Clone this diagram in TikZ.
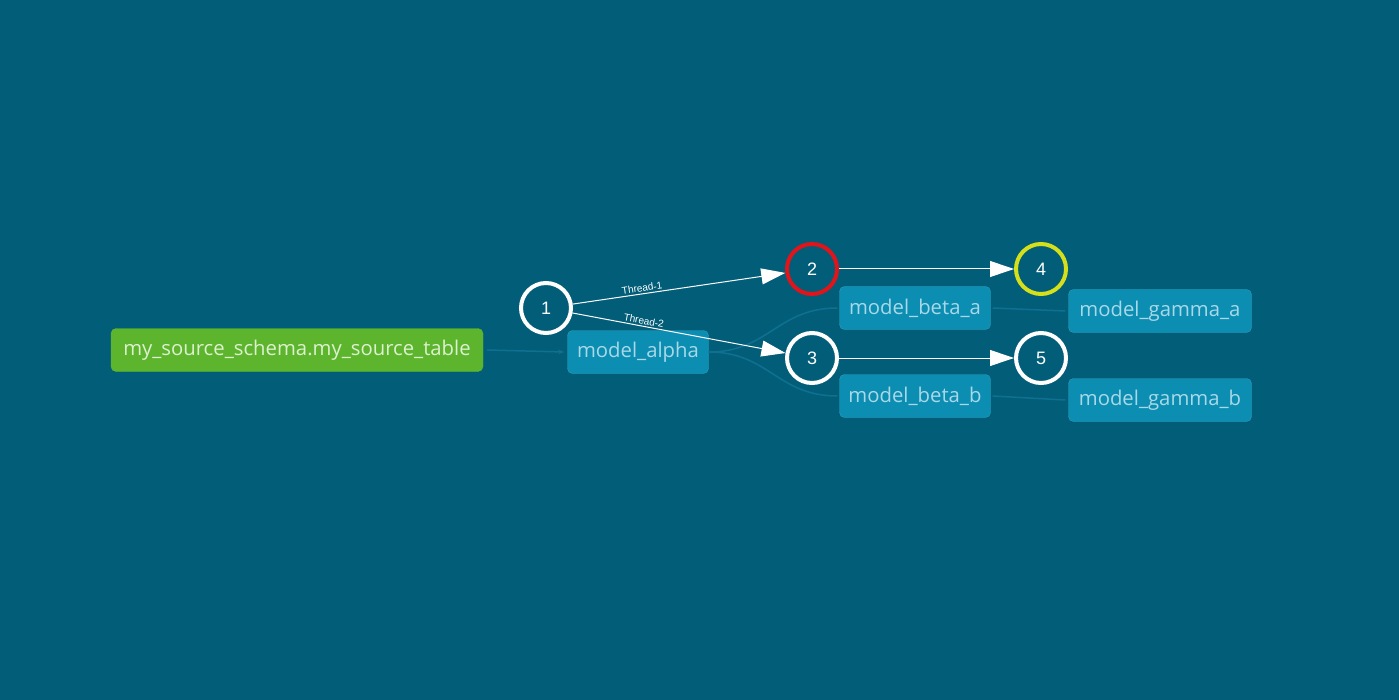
\documentclass[tikz,border=0pt]{standalone}
\usepackage{fontspec}
\usepackage{xcolor}
\usepackage{tikz}
\usetikzlibrary{arrows.meta}
\newfontfamily\boxfont{Open Sans}
\newfontfamily\numfont{Liberation Sans}
\definecolor{bgteal}{HTML}{025E78}
\definecolor{modelfill}{HTML}{0C8DB2}
\definecolor{modeltext}{HTML}{A9D9E8}
\definecolor{srcfill}{HTML}{5CB52D}
\definecolor{srctext}{HTML}{DDF0CF}
\definecolor{faint}{HTML}{0F7092}
\definecolor{ringred}{HTML}{E0141A}
\definecolor{ringyellow}{HTML}{D6E01A}

\begin{document}
\begin{tikzpicture}[x=1pt, y=-1pt,
    model/.style={fill=modelfill, draw=modelfill!85!white, rounded corners=5pt, text=modeltext,
        font=\boxfont\fontsize{20.3}{20.3}\selectfont, inner xsep=8pt, minimum height=43pt},
    source/.style={model, fill=srcfill, draw=srcfill, text=srctext},
    runstep/.style={circle, draw=white, line width=4pt, fill=bgteal, minimum size=50pt, inner sep=0pt,
        text=white, font=\numfont\fontsize{18}{18}\selectfont},
    lineage/.style={faint, line width=1.5pt},
    thread/.style={white, line width=1pt, -{Triangle[length=24pt,width=16pt]}},
    tlabel/.style={font=\numfont\fontsize{10}{10}\selectfont, text=white, sloped, above, inner sep=1.5pt}]
    \fill[bgteal] (0,0) rectangle (1399,700);

    % models
    \node[source, minimum width=372pt] (src) at (297,350) {my\_source\_schema.my\_source\_table};
    \node[model, minimum width=141pt] (alpha) at (638,352) {model\_alpha};
    \node[model, minimum width=151pt] (betaa) at (915,308) {model\_beta\_a};
    \node[model, minimum width=151pt] (betab) at (915,396) {model\_beta\_b};
    \node[model, minimum width=183pt] (gammaa) at (1160,311) {model\_gamma\_a};
    \node[model, minimum width=183pt] (gammab) at (1160,400) {model\_gamma\_b};

    % lineage edges
    \draw[lineage, -{Stealth[length=6pt]}] (src.east) ++(4,0) -- ([xshift=-3pt]alpha.west);
    \draw[lineage] (alpha.east) .. controls +(60,0) and +(-60,0) .. ([xshift=-2pt]betaa.west);
    \draw[lineage] (alpha.east) .. controls +(60,0) and +(-60,0) .. ([xshift=-2pt]betab.west);
    \draw[lineage] ([xshift=2pt]betaa.east) -- ([xshift=-3pt]gammaa.west);
    \draw[lineage] ([xshift=2pt]betab.east) -- ([xshift=-3pt]gammab.west);

    % threads
    \node[runstep] (s1) at (546,308) {1};
    \node[runstep, draw=ringred] (s2) at (812,269) {2};
    \node[runstep] (s3) at (812,358) {3};
    \node[runstep, draw=ringyellow] (s4) at (1041,269) {4};
    \node[runstep] (s5) at (1041,358) {5};

    \draw[thread] (s1) -- node[tlabel, pos=0.33] {Thread-1} (s2);
    \draw[thread] (s1) -- node[tlabel, pos=0.33] {Thread-2} (s3);
    \draw[thread] (s2) -- (s4);
    \draw[thread] (s3) -- (s5);
\end{tikzpicture}
\end{document}
